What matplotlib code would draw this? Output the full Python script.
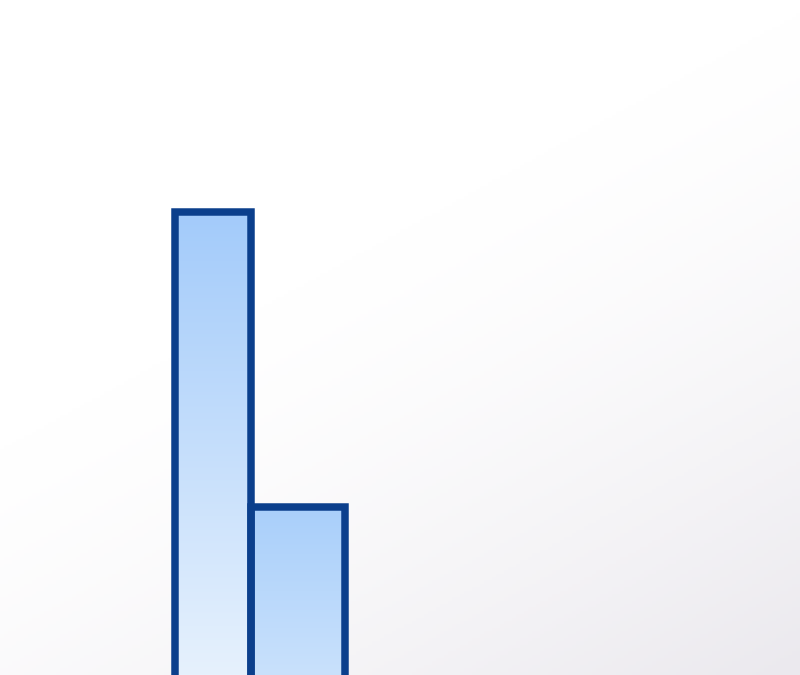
import numpy as np
import matplotlib.pyplot as plt
from matplotlib.colors import LinearSegmentedColormap

# bins (left edges), widths and counts
bin_left = [0.0, 1.0]
bin_width = [1.0, 1.24]
counts = [100, 40]

# gradient end colours per bar (top colour, colour at bottom of view)
top_colors = ['#a3cbfa', '#a9cffa']
bottom_colors = ['#e6f1fd', '#c9e1fc']
edge_color = '#0b3f8c'

fig = plt.figure(figsize=(8, 6.75), dpi=100)

# soft background gradient: white top-left to pale grey bottom-right
bg = fig.add_axes([0, 0, 1, 1])
yy, xx = np.mgrid[0:1:200j, 0:1:200j]
g = np.clip((xx * 0.55 + yy * 0.85) - 0.55, 0, 1) / 0.85
g = np.clip(g, 0, 1) ** 1.4
bg_cmap = LinearSegmentedColormap.from_list('bg', ['#ffffff', '#ebe9ee'])
bg.imshow(g, cmap=bg_cmap, extent=[0, 1, 0, 1], origin='upper', aspect='auto')
bg.axis('off')

ax = fig.add_axes([0, 0, 1, 1])
ax.patch.set_alpha(0)
ax.set_xlim(-175 / 76, 625 / 76)
ax.set_ylim(5.9, 143.2)
ax.axis('off')

bars = ax.bar(bin_left, counts, width=bin_width, align='edge',
              facecolor='none', edgecolor=edge_color, linewidth=5.4, zorder=3)

for bar, c_top, c_bot in zip(bars, top_colors, bottom_colors):
    x0, y0 = bar.get_x(), bar.get_y()
    w, h = bar.get_width(), bar.get_height()
    cmap = LinearSegmentedColormap.from_list('b', [c_bot, c_top])
    grad = np.linspace(0, 1, 256).reshape(-1, 1)
    im = ax.imshow(grad, cmap=cmap, origin='lower', aspect='auto',
                   extent=[x0, x0 + w, 5.9, y0 + h], zorder=2)
    im.set_clip_path(bar)

fig.savefig('out.png', dpi=100)
